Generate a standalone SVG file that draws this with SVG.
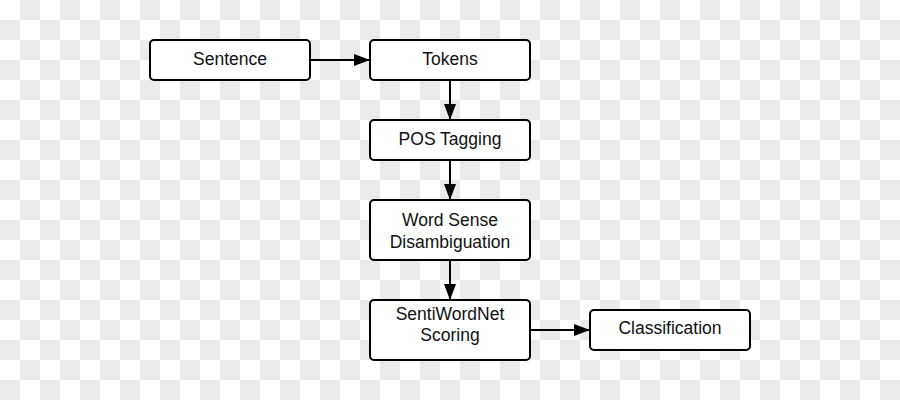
<svg xmlns="http://www.w3.org/2000/svg" width="900" height="400" viewBox="0 0 900 400">
  <defs>
    <pattern id="checker" x="0" y="0" width="40" height="40" patternUnits="userSpaceOnUse">
      <rect x="0" y="0" width="40" height="40" fill="#ffffff"/>
      <rect x="20" y="0" width="20" height="20" fill="#ebebeb"/>
      <rect x="0" y="20" width="20" height="20" fill="#ebebeb"/>
    </pattern>
    <marker id="arrow" viewBox="0 0 16 12" refX="16" refY="6" markerWidth="16" markerHeight="12" markerUnits="userSpaceOnUse" orient="auto">
      <path d="M0,0 L16,6 L0,12 Z" fill="#000"/>
    </marker>
    <style>
      .box { fill: #ffffff; stroke: #000000; stroke-width: 2; }
      .lbl { font-family: "Liberation Sans", Arial, sans-serif; font-size: 17.5px; fill: #111111; text-anchor: middle; }
      .edge { stroke: #000000; stroke-width: 2; fill: none; marker-end: url(#arrow); }
    </style>
  </defs>
  <rect x="0" y="0" width="900" height="400" fill="url(#checker)"/>

  <g id="connectors">
    <line class="edge" x1="310" y1="60" x2="370" y2="60"/>
    <line class="edge" x1="450" y1="80" x2="450" y2="120"/>
    <line class="edge" x1="450" y1="160" x2="450" y2="200"/>
    <line class="edge" x1="450" y1="260" x2="450" y2="300"/>
    <line class="edge" x1="530" y1="330" x2="590" y2="330"/>
  </g>

  <g id="sentence">
    <rect class="box" x="150" y="40" width="160" height="40" rx="4"/>
    <text class="lbl" x="230" y="64.5">Sentence</text>
  </g>
  <g id="tokens">
    <rect class="box" x="370" y="40" width="160" height="40" rx="4"/>
    <text class="lbl" x="450" y="64.5">Tokens</text>
  </g>
  <g id="pos-tagging">
    <rect class="box" x="370" y="120" width="160" height="40" rx="4"/>
    <text class="lbl" x="450" y="144.5">POS Tagging</text>
  </g>
  <g id="word-sense">
    <rect class="box" x="370" y="200" width="160" height="60" rx="4"/>
    <text class="lbl" x="450" y="226">Word Sense</text>
    <text class="lbl" x="450" y="247.5">Disambiguation</text>
  </g>
  <g id="sentiwordnet">
    <rect class="box" x="370" y="300" width="160" height="60" rx="4"/>
    <text class="lbl" x="450" y="319.5">SentiWordNet</text>
    <text class="lbl" x="450" y="340.7">Scoring</text>
  </g>
  <g id="classification">
    <rect class="box" x="590" y="310" width="160" height="40" rx="4"/>
    <text class="lbl" x="670" y="334">Classification</text>
  </g>
</svg>
